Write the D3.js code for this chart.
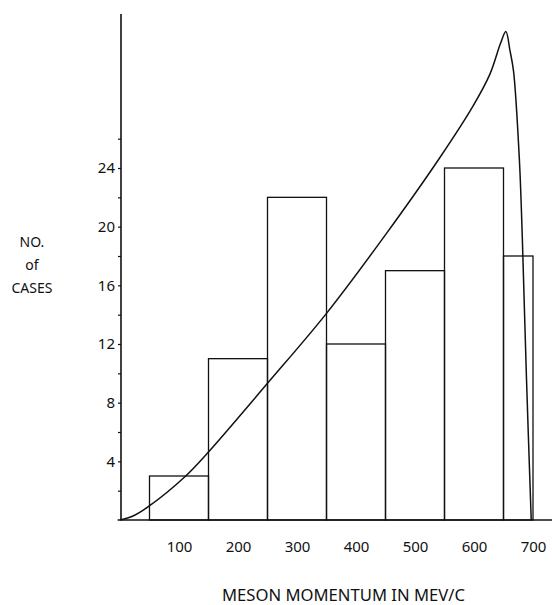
<!DOCTYPE html>
<html>
<head>
<meta charset="utf-8">
<script src="https://cdn.jsdelivr.net/npm/d3@7"></script>
<style>
  html, body { margin: 0; padding: 0; background: #fff; }
  svg { display: block; }
  text { font-family: "Noto Sans", "DejaVu Sans", sans-serif; fill: #111; }
</style>
</head>
<body>
<script>
// Histogram of meson momenta (bin edges in MeV/c) with the theoretical spectrum
const binStarts = [50, 150, 250, 350, 450, 550, 650];
const binEnds   = [150, 250, 350, 450, 550, 650, 700];
const counts    = [3, 11, 22, 12, 17, 24, 18];

// Theoretical curve, momentum (MeV/c) and number of cases
const curveMomentum = [0, 22, 48, 110, 148, 250, 350, 452, 542, 598, 627, 645, 654, 661, 667, 677, 682, 689, 697];
const curveCases    = [0, 0.27, 0.91, 2.95, 4.55, 9.32, 14.09, 19.56, 24.7, 28.2, 30.4, 32.5, 33.3, 32.0, 30.6, 24.5, 19.1, 9.6, 0];

const xTickValues = [100, 200, 300, 400, 500, 600, 700];
const yTickValues = [2, 4, 6, 8, 10, 12, 14, 16, 18, 20, 22, 24, 26];
const yLabelled   = [4, 8, 12, 16, 20, 24];
const yTitleLines = ["NO.", "of", "CASES"];
const xTitle = "MESON MOMENTUM IN MEV/C";

const W = 552, H = 605;
const svg = d3.select("body").append("svg").attr("width", W).attr("height", H);

const x = d3.scaleLinear().domain([0, 700]).range([120, 533]);
const y = d3.scaleLinear().domain([0, 24]).range([520, 168]);

const ink = "#111";

// Bars
svg.append("g")
  .selectAll("rect")
  .data(counts)
  .join("rect")
  .attr("x", (d, i) => x(binStarts[i]))
  .attr("width", (d, i) => x(binEnds[i]) - x(binStarts[i]))
  .attr("y", d => y(d))
  .attr("height", d => y(0) - y(d))
  .attr("fill", "none")
  .attr("stroke", ink)
  .attr("stroke-width", 1.3);

// Axis lines
svg.append("line")
  .attr("x1", x(0) + 1).attr("x2", x(0) + 1)
  .attr("y1", y(0)).attr("y2", y(34.5))
  .attr("stroke", ink).attr("stroke-width", 1.6);
svg.append("line")
  .attr("x1", x(-4)).attr("x2", x(740))
  .attr("y1", y(0)).attr("y2", y(0))
  .attr("stroke", ink).attr("stroke-width", 1.5);

// Y axis ticks and labels
const yAxis = d3.axisLeft(y)
  .tickValues(yTickValues)
  .tickSize(3)
  .tickPadding(3)
  .tickFormat(d => yLabelled.includes(d) ? d : "");
const gy = svg.append("g").attr("transform", `translate(${x(0) + 1},0)`).call(yAxis);
gy.select(".domain").remove();
gy.selectAll(".tick line").attr("stroke", ink).attr("stroke-width", 1.2);
gy.selectAll(".tick text").style("font-size", "15px").attr("fill", ink);

// X axis labels
const xAxis = d3.axisBottom(x)
  .tickValues(xTickValues)
  .tickSize(0)
  .tickPadding(21)
  .tickFormat(d3.format("d"));
const gx = svg.append("g").attr("transform", `translate(0,${y(0)})`).call(xAxis);
gx.select(".domain").remove();
gx.selectAll(".tick text").style("font-size", "15px").attr("fill", ink);

// Theoretical spectrum
const line = d3.line()
  .x((d, i) => x(curveMomentum[i]))
  .y(d => y(d))
  .curve(d3.curveCatmullRom.alpha(0.5));
svg.append("path")
  .attr("d", line(curveCases))
  .attr("fill", "none")
  .attr("stroke", ink)
  .attr("stroke-width", 1.5);

// Y title
svg.append("g")
  .selectAll("text")
  .data(yTitleLines)
  .join("text")
  .attr("x", 32)
  .attr("y", (d, i) => 247 + i * 23)
  .attr("text-anchor", "middle")
  .style("font-size", "14px")
  .text(d => d);

// X title
svg.append("text")
  .attr("x", 222)
  .attr("y", 601)
  .attr("textLength", 243)
  .attr("lengthAdjust", "spacingAndGlyphs")
  .style("font-size", "16px")
  .text(xTitle);
</script>
</body>
</html>
